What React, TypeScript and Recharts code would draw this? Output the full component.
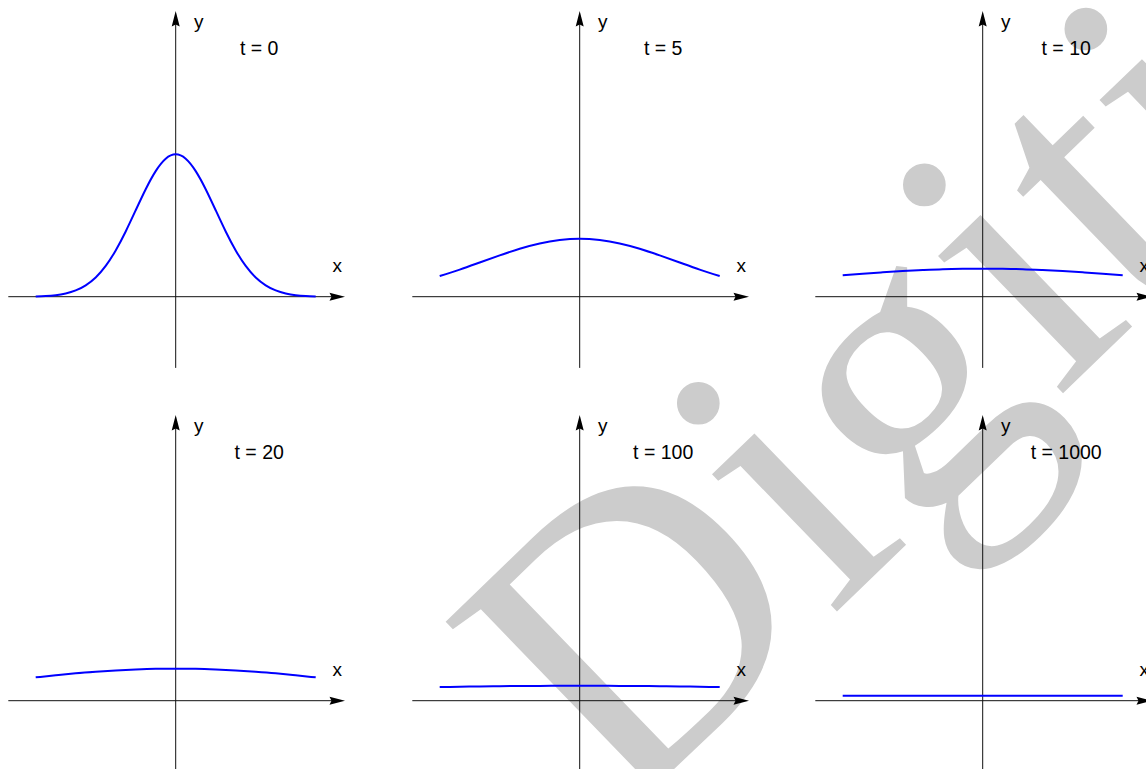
import { LineChart, Line, XAxis, YAxis, ReferenceLine } from 'recharts';

// x positions (shared by every panel), step 0.25 for the narrow t = 0 bell
const xFine = [
  -3.5, -3.25, -3, -2.75, -2.5, -2.25, -2, -1.75, -1.5, -1.25, -1, -0.75, -0.5, -0.25, 0,
  0.25, 0.5, 0.75, 1, 1.25, 1.5, 1.75, 2, 2.25, 2.5, 2.75, 3, 3.25, 3.5,
];
const xCoarse = [-3.5, -3, -2.5, -2, -1.5, -1, -0.5, 0, 0.5, 1, 1.5, 2, 2.5, 3, 3.5];

const t0Values = [
  0.002, 0.005, 0.011, 0.023, 0.044, 0.08, 0.135, 0.216, 0.325, 0.458, 0.607, 0.755, 0.882, 0.969, 1.0,
  0.969, 0.882, 0.755, 0.607, 0.458, 0.325, 0.216, 0.135, 0.08, 0.044, 0.023, 0.011, 0.005, 0.002,
];
const t5Values = [0.145, 0.19, 0.24, 0.29, 0.337, 0.374, 0.398, 0.407, 0.398, 0.374, 0.337, 0.29, 0.24, 0.19, 0.145];
const t10Values = [0.15, 0.161, 0.171, 0.18, 0.187, 0.193, 0.196, 0.197, 0.196, 0.193, 0.187, 0.18, 0.171, 0.161, 0.15];
const t20Values = [0.164, 0.178, 0.192, 0.203, 0.212, 0.219, 0.224, 0.225, 0.224, 0.219, 0.212, 0.203, 0.192, 0.178, 0.164];
const t100Values = [0.096, 0.098, 0.1, 0.102, 0.103, 0.104, 0.105, 0.105, 0.105, 0.104, 0.103, 0.102, 0.1, 0.098, 0.096];
const t1000Values = [0.035, 0.035, 0.035, 0.035, 0.035, 0.035, 0.035, 0.035, 0.035, 0.035, 0.035, 0.035, 0.035, 0.035, 0.035];

const timeLabels = ['t = 0', 't = 5', 't = 10', 't = 20', 't = 100', 't = 1000'];

const panels = [
  { xs: xFine, ys: t0Values },
  { xs: xCoarse, ys: t5Values },
  { xs: xCoarse, ys: t10Values },
  { xs: xCoarse, ys: t20Values },
  { xs: xCoarse, ys: t100Values },
  { xs: xCoarse, ys: t1000Values },
];

const PANEL = 404;
const X_DOMAIN = [-4.3925, 5.7075];
const Y_DOMAIN = [-0.7535, 2.0836];
const FONT = '"Liberation Sans", Arial, sans-serif';

// line with a filled arrowhead at its second end point
function ArrowLine(props: any) {
  const { x1, y1, x2, y2 } = props;
  const dx = x2 - x1;
  const dy = y2 - y1;
  const len = Math.sqrt(dx * dx + dy * dy) || 1;
  const ux = dx / len;
  const uy = dy / len;
  const bx = x2 - ux * 15.5;
  const by = y2 - uy * 15.5;
  const nx = -uy * 4;
  const ny = ux * 4;
  const pts = [
    `${x2},${y2}`,
    `${bx + nx},${by + ny}`,
    `${bx + ux * 2},${by + uy * 2}`,
    `${bx - nx},${by - ny}`,
  ].join(' ');
  return (
    <g>
      <line x1={x1} y1={y1} x2={bx + ux * 3} y2={by + uy * 3} stroke="#111" strokeWidth={1} />
      <polygon points={pts} fill="#000" />
    </g>
  );
}

function Panel({ index }: { index: number }) {
  const p = panels[index];
  const data = p.xs.map((x, i) => ({ x, y: p.ys[i] }));
  return (
    <LineChart width={PANEL} height={PANEL} data={data} margin={{ top: 0, right: 0, bottom: 0, left: 0 }}>
      <XAxis type="number" dataKey="x" domain={X_DOMAIN} allowDataOverflow hide />
      <YAxis type="number" domain={Y_DOMAIN} allowDataOverflow hide />
      <ReferenceLine segment={[{ x: -4.185, y: 0 }, { x: 4.2325, y: 0 }]} shape={ArrowLine} />
      <ReferenceLine segment={[{ x: 0, y: -0.5 }, { x: 0, y: 2.006 }]} shape={ArrowLine} />
      <Line
        type="natural"
        dataKey="y"
        stroke="#0000ff"
        strokeWidth={2}
        dot={false}
        activeDot={false}
        isAnimationActive={false}
      />
      <text x={194} y={27.5} fontSize={19} fontFamily={FONT} fill="#000">y</text>
      <text x={332.5} y={271.5} fontSize={19} fontFamily={FONT} fill="#000">x</text>
      <text x={259.2} y={55} fontSize={19.5} fontFamily={FONT} fill="#000" textAnchor="middle">
        {timeLabels[index]}
      </text>
    </LineChart>
  );
}

const colLeft = [0, 403.6, 806.6];
const rowTop = [0, 404];

export default function App() {
  return (
    <div style={{ position: 'absolute', left: 0, top: 0, width: 1146, height: 769, overflow: 'hidden', background: '#fff' }}>
      <svg width={1146} height={769} style={{ position: 'absolute', left: 0, top: 0 }}>
        <text
          x={621}
          y={820}
          fontSize={404}
          fontFamily='"Liberation Serif", "Times New Roman", serif'
          fill="#cccccc"
          transform="rotate(-44 621 820)"
        >
          Digitized
        </text>
      </svg>
      {panels.map((_, i) => (
        <div key={i} style={{ position: 'absolute', left: colLeft[i % 3], top: rowTop[Math.floor(i / 3)] }}>
          <Panel index={i} />
        </div>
      ))}
    </div>
  );
}
